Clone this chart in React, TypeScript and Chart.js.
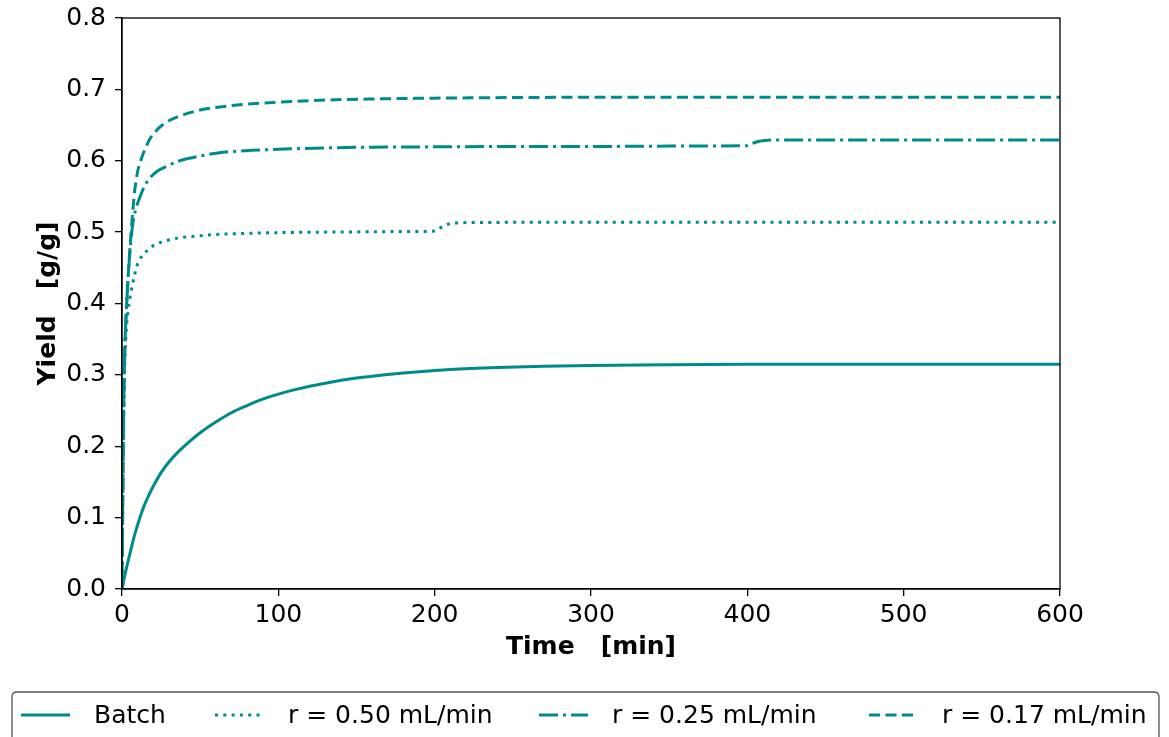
import React, { useEffect, useRef } from "react";
import { Chart, registerables } from "chart.js";

Chart.register(...registerables);

// ---------- data ----------
const batchT = [0, 2, 4, 6, 8, 10, 12.5, 15, 17.5, 20, 25, 30, 35, 40, 45, 50, 60, 70, 80, 90, 100, 110, 120, 135, 150, 170, 190, 210, 240, 270, 300, 350, 400, 450, 500, 600];
const batchY = [0, 0.021, 0.04, 0.058, 0.075, 0.09, 0.107, 0.121, 0.133, 0.144, 0.163, 0.178, 0.19, 0.2005, 0.21, 0.219, 0.234, 0.247, 0.257, 0.266, 0.273, 0.279, 0.284, 0.2905, 0.2955, 0.3005, 0.3045, 0.3075, 0.3103, 0.3121, 0.3133, 0.3143, 0.3148, 0.315, 0.315, 0.315];

const r050T = [0, 0.5, 1, 1.5, 2, 3, 4, 5, 6, 7, 8.1, 9.2, 10.5, 12.3, 14.2, 16.6, 20, 25.2, 32, 40, 50, 59.3, 76.5, 100, 130, 160, 190, 200, 203, 206, 210, 215, 230, 260, 300, 400, 500, 600];
const r050Y = [0, 0.12, 0.22, 0.29, 0.33, 0.37, 0.392, 0.407, 0.419, 0.43, 0.441, 0.45, 0.458, 0.465, 0.47, 0.475, 0.481, 0.486, 0.49, 0.493, 0.495, 0.4967, 0.498, 0.4993, 0.5, 0.5005, 0.501, 0.5015, 0.505, 0.509, 0.512, 0.513, 0.5135, 0.5138, 0.514, 0.514, 0.514, 0.514];

const r025T = [0, 0.5, 1, 1.5, 2, 3, 4, 5, 6, 7, 7.7, 9.2, 11.3, 12.3, 14.5, 18.7, 23, 29.4, 37, 46.5, 61.4, 78.7, 100, 130, 160, 200, 250, 300, 350, 400, 403, 407, 411, 420, 450, 500, 600];
const r025Y = [0, 0.13, 0.24, 0.31, 0.35, 0.4, 0.44, 0.47, 0.495, 0.513, 0.522, 0.535, 0.548, 0.554, 0.565, 0.578, 0.586, 0.593, 0.6, 0.605, 0.611, 0.614, 0.616, 0.618, 0.619, 0.6195, 0.62, 0.62, 0.6205, 0.621, 0.624, 0.627, 0.6285, 0.629, 0.629, 0.629, 0.629];

const r017T = [0, 0.5, 1, 1.5, 2, 3, 4, 5, 6, 7, 8.1, 9, 10.2, 11.8, 13.4, 15.5, 17.7, 21, 25.2, 30, 40, 50, 61.4, 78.7, 100, 130, 160, 200, 250, 300, 400, 500, 600];
const r017Y = [0, 0.13, 0.24, 0.31, 0.35, 0.4, 0.44, 0.475, 0.505, 0.532, 0.558, 0.572, 0.587, 0.599, 0.609, 0.62, 0.63, 0.64, 0.649, 0.656, 0.665, 0.671, 0.675, 0.679, 0.682, 0.685, 0.6865, 0.6877, 0.6885, 0.689, 0.689, 0.689, 0.689];

const seriesLabels = ["Batch", "r = 0.50 mL/min", "r = 0.25 mL/min", "r = 0.17 mL/min"];
const xTitle = "Time   [min]";
const yTitle = "Yield   [g/g]";

// ---------- styles ----------
const W = 1169;
const H = 737;
const COLOR = "#008b8b";
const LW = 3;
const FONT = "DejaVu Sans";
const dashes: number[][] = [[], [3, 5.3], [19, 5, 3, 5], [11, 5.5]];

const pair = (t: number[], y: number[]) => t.map((x, i) => ({ x, y: y[i] }));

const framePlugin = {
  id: "frame",
  afterDraw(chart: any) {
    const { ctx, chartArea: a } = chart;
    ctx.save();
    ctx.strokeStyle = "#000";
    ctx.lineWidth = 1.3;
    ctx.strokeRect(a.left, a.top, a.right - a.left, a.bottom - a.top);
    ctx.restore();
  },
};

const legendPlugin = {
  id: "customLegend",
  afterDraw(chart: any) {
    const { ctx } = chart;
    ctx.save();
    const x0 = 12, y0 = 692, x1 = 1159, y1 = 770, r = 5;
    ctx.beginPath();
    ctx.moveTo(x0 + r, y0);
    ctx.lineTo(x1 - r, y0);
    ctx.quadraticCurveTo(x1, y0, x1, y0 + r);
    ctx.lineTo(x1, y1);
    ctx.lineTo(x0, y1);
    ctx.lineTo(x0, y0 + r);
    ctx.quadraticCurveTo(x0, y0, x0 + r, y0);
    ctx.closePath();
    ctx.fillStyle = "rgba(255,255,255,0.8)";
    ctx.fill();
    ctx.strokeStyle = "#555";
    ctx.lineWidth = 1.3;
    ctx.stroke();

    const textX = [94, 288, 612, 942];
    const yc = 715;
    ctx.font = `25px "${FONT}"`;
    ctx.textBaseline = "middle";
    ctx.textAlign = "left";
    seriesLabels.forEach((lab, i) => {
      const hx = textX[i] - 73;
      ctx.beginPath();
      ctx.setLineDash(dashes[i]);
      ctx.strokeStyle = COLOR;
      ctx.lineWidth = LW;
      ctx.moveTo(hx, yc);
      ctx.lineTo(hx + 49, yc);
      ctx.stroke();
      ctx.setLineDash([]);
      ctx.fillStyle = "#000";
      ctx.fillText(lab, textX[i], yc + 1);
    });
    ctx.restore();
  },
};

export default function App() {
  const ref = useRef<HTMLCanvasElement>(null);

  useEffect(() => {
    if (!ref.current) return;
    const tickFont = { family: FONT, size: 25 };
    const titleFont = { family: FONT, size: 25, weight: "bold" as const, lineHeight: 1.2 };
    const series = [pair(batchT, batchY), pair(r050T, r050Y), pair(r025T, r025Y), pair(r017T, r017Y)];
    const chart = new Chart(ref.current, {
      type: "line",
      data: {
        datasets: series.map((d, i) => ({
          label: seriesLabels[i],
          data: d,
          borderColor: COLOR,
          backgroundColor: COLOR,
          borderWidth: LW,
          borderDash: dashes[i],
          pointRadius: 0,
          fill: false,
          cubicInterpolationMode: "monotone" as const,
        })),
      },
      options: {
        responsive: false,
        maintainAspectRatio: false,
        animation: false,
        layout: { padding: { top: 18, right: 109, left: 0, bottom: 0 } },
        plugins: { legend: { display: false }, tooltip: { enabled: false } },
        scales: {
          x: {
            type: "linear",
            min: 0,
            max: 600,
            ticks: { stepSize: 100, font: tickFont, color: "#000", padding: 4, maxRotation: 0, autoSkip: false },
            grid: { display: true, drawOnChartArea: false, drawTicks: true, tickLength: 7, color: "#000", lineWidth: 1.3 },
            border: { display: true, color: "#000", width: 1.3 },
            title: { display: true, text: xTitle, font: titleFont, color: "#000", padding: { top: 0, bottom: 75 } },
            afterFit: (s: any) => {
              s.height = 148;
              s.paddingLeft = 0;
              s.paddingRight = 0;
            },
          },
          y: {
            type: "linear",
            min: 0,
            max: 0.8,
            ticks: {
              stepSize: 0.1,
              font: tickFont,
              color: "#000",
              padding: 9,
              callback: (v: any) => Number(v).toFixed(1),
            },
            grid: { display: true, drawOnChartArea: false, drawTicks: true, tickLength: 7, color: "#000", lineWidth: 1.3 },
            border: { display: true, color: "#000", width: 1.3 },
            title: { display: true, text: yTitle, font: titleFont, color: "#000", padding: { top: 33, bottom: 0 } },
            afterFit: (s: any) => {
              s.width = 122;
              s.paddingTop = 0;
              s.paddingBottom = 0;
            },
          },
        },
      },
      plugins: [framePlugin, legendPlugin],
    });
    return () => chart.destroy();
  }, []);

  return (
    <div style={{ position: "absolute", left: 0, top: 0, width: W, height: H, background: "#fff" }}>
      <canvas ref={ref} width={W} height={H} style={{ display: "block", width: W, height: H }} />
    </div>
  );
}
